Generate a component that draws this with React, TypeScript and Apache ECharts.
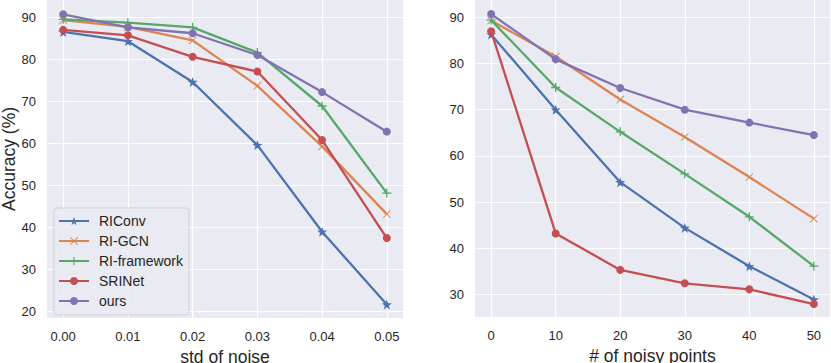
import React, { useEffect, useRef } from "react";
import * as echarts from "echarts";

// ---- data ----
const seriesNames = ["RIConv", "RI-GCN", "RI-framework", "SRINet", "ours"];
const noiseStd = [0, 0.01, 0.02, 0.03, 0.04, 0.05];
const noisyPoints = [0, 10, 20, 30, 40, 50];

const stdRIConv = [86.5, 84.3, 74.6, 59.6, 39.0, 21.7];
const stdRIGCN = [89.3, 87.7, 84.5, 73.7, 59.3, 43.2];
const stdRIFramework = [89.5, 88.7, 87.6, 81.6, 68.9, 48.2];
const stdSRINet = [87.0, 85.7, 80.6, 77.1, 60.8, 37.5];
const stdOurs = [90.7, 87.6, 86.2, 81.0, 72.2, 62.8];

const ptsRIConv = [86.3, 70.0, 54.3, 44.4, 36.1, 28.9];
const ptsRIGCN = [89.3, 81.5, 72.2, 64.1, 55.4, 46.4];
const ptsRIFramework = [89.4, 74.8, 65.2, 56.1, 46.8, 36.1];
const ptsSRINet = [87.0, 43.2, 35.3, 32.4, 31.1, 27.9];
const ptsOurs = [90.7, 80.9, 74.7, 70.0, 67.2, 64.5];

const leftYTicks = [20, 30, 40, 50, 60, 70, 80, 90];
const rightYTicks = [30, 40, 50, 60, 70, 80, 90];

// ---- styles ----
const colors = ["#4C72B0", "#DD8452", "#55A868", "#C44E52", "#8172B3"];
const STAR =
  "path://M0,-10 L2.35,-3.24 L9.51,-3.09 L3.8,1.24 L5.88,8.09 L0,4 L-5.88,8.09 L-3.8,1.24 L-9.51,-3.09 L-2.35,-3.24 Z";
const XMARK =
  "path://M-5,-4.2 L-4.2,-5 L0,-0.8 L4.2,-5 L5,-4.2 L0.8,0 L5,4.2 L4.2,5 L0,0.8 L-4.2,5 L-5,4.2 L-0.8,0 Z";
const PLUS =
  "path://M-0.7,-5 L0.7,-5 L0.7,-0.7 L5,-0.7 L5,0.7 L0.7,0.7 L0.7,5 L-0.7,5 L-0.7,0.7 L-5,0.7 L-5,-0.7 L-0.7,-0.7 Z";
const symbols = [STAR, XMARK, PLUS, "circle", "circle"];
const symbolSizes = [10, 8, 9, 8, 8];
const FONT = "Liberation Sans, Arial, sans-serif";
const TEXT = "#262626";

const stdData = [stdRIConv, stdRIGCN, stdRIFramework, stdSRINet, stdOurs];
const ptsData = [ptsRIConv, ptsRIGCN, ptsRIFramework, ptsSRINet, ptsOurs];

function makeSeries(xs: number[], ys: number[][], axisIndex: number) {
  return seriesNames.map((name, i) => ({
    name,
    type: "line",
    xAxisIndex: axisIndex,
    yAxisIndex: axisIndex,
    data: xs.map((x, j) => [x, ys[i][j]]),
    symbol: symbols[i],
    symbolSize: symbolSizes[i],
    showSymbol: true,
    lineStyle: { color: colors[i], width: 2.3 },
    itemStyle: { color: colors[i] },
    z: 3 + i,
  }));
}

function xAxisCfg(gridIndex: number, min: number, max: number, ticks: number[], name: string, fmt: (v: number) => string) {
  return {
    type: "value",
    gridIndex,
    min,
    max,
    name,
    nameLocation: "middle",
    nameGap: 28,
    nameTextStyle: { color: TEXT, fontSize: 17.5, fontFamily: FONT },
    axisLine: { show: false },
    axisTick: { show: false, customValues: ticks },
    axisLabel: {
      customValues: ticks,
      color: TEXT,
      fontSize: 13,
      fontFamily: FONT,
      margin: 12,
      formatter: fmt,
    },
    splitLine: { show: true, lineStyle: { color: "#ffffff", width: 1.2 } },
  };
}

function yAxisCfg(gridIndex: number, min: number, max: number, ticks: number[], name: string) {
  return {
    type: "value",
    gridIndex,
    min,
    max,
    name,
    nameLocation: "middle",
    nameGap: 29,
    nameTextStyle: { color: TEXT, fontSize: 17.5, fontFamily: FONT },
    axisLine: { show: false },
    axisTick: { show: false, customValues: ticks },
    axisLabel: {
      customValues: ticks,
      color: TEXT,
      fontSize: 13,
      fontFamily: FONT,
      margin: 11,
      formatter: (v: number) => String(Math.round(v)),
    },
    splitLine: { show: true, lineStyle: { color: "#ffffff", width: 1.2 } },
  };
}

export default function App() {
  const ref = useRef<HTMLDivElement>(null);
  useEffect(() => {
    if (!ref.current) return;
    const chart = echarts.init(ref.current, null, { renderer: "svg" });
    chart.setOption({
      animation: false,
      backgroundColor: "#ffffff",
      textStyle: { fontFamily: FONT },
      grid: [
        { left: 47, top: 0, width: 356, height: 318, show: true, backgroundColor: "#EAEAF2", borderWidth: 0, containLabel: false, outerBoundsMode: "none" },
        { left: 475, top: 0, width: 355, height: 317, show: true, backgroundColor: "#EAEAF2", borderWidth: 0, containLabel: false, outerBoundsMode: "none" },
      ],
      xAxis: [
        xAxisCfg(0, -0.0025, 0.0525, noiseStd, "std of noise", (v: number) => v.toFixed(2)),
        xAxisCfg(1, -2.5, 52.5, noisyPoints, "# of noisy points", (v: number) => String(Math.round(v))),
      ],
      yAxis: [
        yAxisCfg(0, 18.5, 94.1, leftYTicks, "Accuracy (%)"),
        yAxisCfg(1, 25.1, 93.75, rightYTicks, ""),
      ],
      legend: {
        data: seriesNames,
        orient: "vertical",
        left: 54,
        top: 208,
        itemWidth: 30,
        itemHeight: 10,
        itemGap: 6,
        padding: [6, 6, 7, 4],
        backgroundColor: "rgba(234,234,242,0.85)",
        borderColor: "#cfcfd6",
        borderWidth: 1,
        borderRadius: 3,
        textStyle: { color: TEXT, fontSize: 14, fontFamily: FONT, padding: [0, 0, 0, 5] },
      },
      series: [...makeSeries(noiseStd, stdData, 0), ...makeSeries(noisyPoints, ptsData, 1)],
    });
    return () => chart.dispose();
  }, []);
  return (
    <div
      ref={ref}
      style={{ position: "absolute", left: 0, top: 0, width: 831, height: 363 }}
    />
  );
}
